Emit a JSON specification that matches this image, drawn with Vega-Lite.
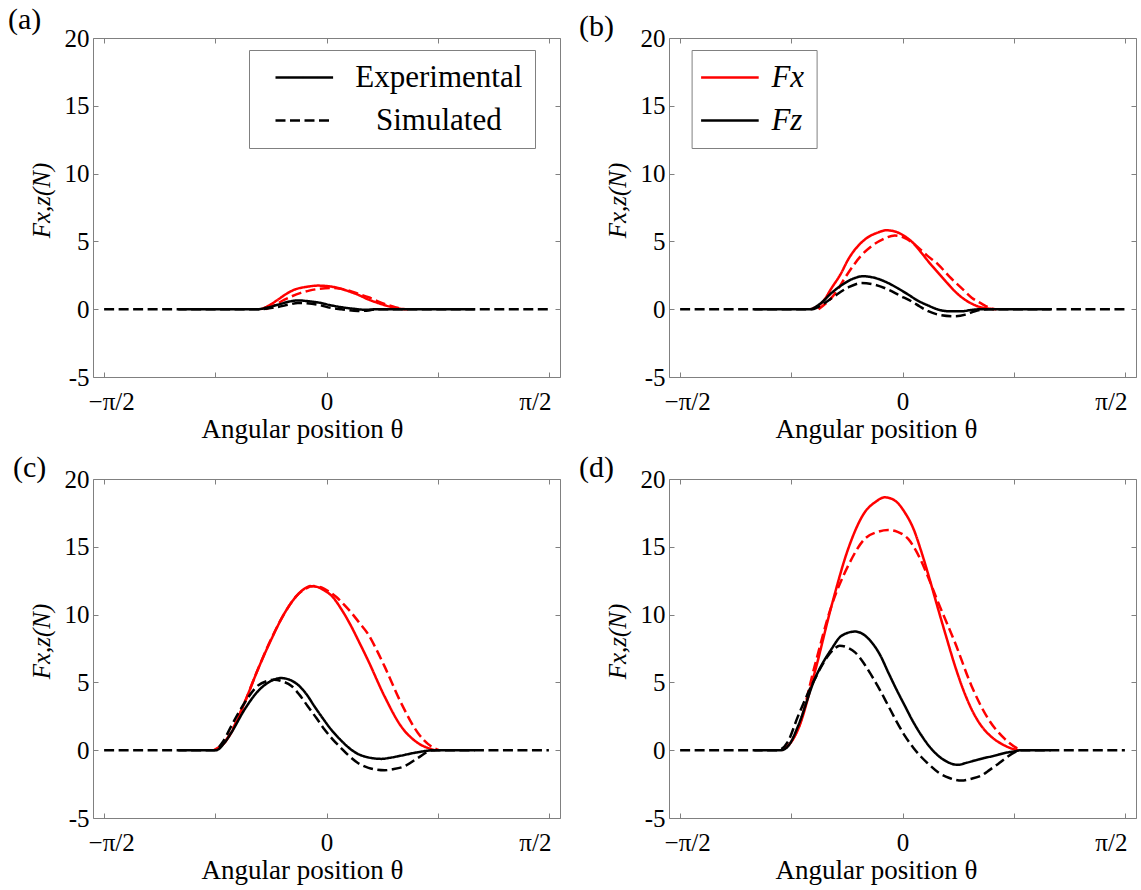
{
  "$schema": "https://vega.github.io/schema/vega-lite/v6.json",
  "background": "white",
  "padding": {"left": 7, "top": 4, "right": 4, "bottom": 4},
  "config": {
    "font": "Liberation Serif",
    "view": {"stroke": "#808080", "strokeWidth": 1},
    "axis": {"grid": false, "domain": false, "tickColor": "#808080", "tickWidth": 1, "tickSize": -5, "labelFont": "Liberation Serif", "labelColor": "black", "labelFontSize": 25, "titleFont": "Liberation Serif", "titleFontWeight": "normal", "titleColor": "black"},
    "title": {"font": "Liberation Serif", "fontSize": 30, "fontWeight": "normal", "anchor": "start", "frame": "group", "color": "black", "offset": -9},
    "legend": {"labelFont": "Liberation Serif", "labelColor": "black"}
  },
  "data": {"values": [
    {"panel":"a","comp":"Fx","kind":"Experimental","theta":-26.5,"F":0},
    {"panel":"a","comp":"Fx","kind":"Experimental","theta":-23,"F":0.3},
    {"panel":"a","comp":"Fx","kind":"Experimental","theta":-19.7,"F":0.7},
    {"panel":"a","comp":"Fx","kind":"Experimental","theta":-16.5,"F":1.1},
    {"panel":"a","comp":"Fx","kind":"Experimental","theta":-13,"F":1.44},
    {"panel":"a","comp":"Fx","kind":"Experimental","theta":-8,"F":1.65},
    {"panel":"a","comp":"Fx","kind":"Experimental","theta":-3.5,"F":1.74},
    {"panel":"a","comp":"Fx","kind":"Experimental","theta":0.5,"F":1.7},
    {"panel":"a","comp":"Fx","kind":"Experimental","theta":4.6,"F":1.57},
    {"panel":"a","comp":"Fx","kind":"Experimental","theta":8.5,"F":1.35},
    {"panel":"a","comp":"Fx","kind":"Experimental","theta":12.7,"F":1.07},
    {"panel":"a","comp":"Fx","kind":"Experimental","theta":16.5,"F":0.75},
    {"panel":"a","comp":"Fx","kind":"Experimental","theta":20.8,"F":0.46},
    {"panel":"a","comp":"Fx","kind":"Experimental","theta":26.2,"F":0.16},
    {"panel":"a","comp":"Fx","kind":"Experimental","theta":29,"F":0.05},
    {"panel":"a","comp":"Fx","kind":"Experimental","theta":31.6,"F":0},
    {"panel":"a","comp":"Fx","kind":"Simulated","theta":-24.5,"F":0},
    {"panel":"a","comp":"Fx","kind":"Simulated","theta":-21,"F":0.3},
    {"panel":"a","comp":"Fx","kind":"Simulated","theta":-17,"F":0.7},
    {"panel":"a","comp":"Fx","kind":"Simulated","theta":-10.4,"F":1.2},
    {"panel":"a","comp":"Fx","kind":"Simulated","theta":-7,"F":1.37},
    {"panel":"a","comp":"Fx","kind":"Simulated","theta":-3.5,"F":1.49},
    {"panel":"a","comp":"Fx","kind":"Simulated","theta":1.9,"F":1.57},
    {"panel":"a","comp":"Fx","kind":"Simulated","theta":6,"F":1.5},
    {"panel":"a","comp":"Fx","kind":"Simulated","theta":9.5,"F":1.35},
    {"panel":"a","comp":"Fx","kind":"Simulated","theta":12.7,"F":1.15},
    {"panel":"a","comp":"Fx","kind":"Simulated","theta":17,"F":0.88},
    {"panel":"a","comp":"Fx","kind":"Simulated","theta":20.8,"F":0.58},
    {"panel":"a","comp":"Fx","kind":"Simulated","theta":27.5,"F":0.16},
    {"panel":"a","comp":"Fx","kind":"Simulated","theta":30,"F":0.05},
    {"panel":"a","comp":"Fx","kind":"Simulated","theta":33,"F":0},
    {"panel":"a","comp":"Fz","kind":"Experimental","theta":-60,"F":0},
    {"panel":"a","comp":"Fz","kind":"Experimental","theta":-27.8,"F":0},
    {"panel":"a","comp":"Fz","kind":"Experimental","theta":-24,"F":0.12},
    {"panel":"a","comp":"Fz","kind":"Experimental","theta":-19.7,"F":0.33},
    {"panel":"a","comp":"Fz","kind":"Experimental","theta":-14,"F":0.6},
    {"panel":"a","comp":"Fz","kind":"Experimental","theta":-11.6,"F":0.65},
    {"panel":"a","comp":"Fz","kind":"Experimental","theta":-8,"F":0.6},
    {"panel":"a","comp":"Fz","kind":"Experimental","theta":-3.5,"F":0.5},
    {"panel":"a","comp":"Fz","kind":"Experimental","theta":2,"F":0.28},
    {"panel":"a","comp":"Fz","kind":"Experimental","theta":6,"F":0.15},
    {"panel":"a","comp":"Fz","kind":"Experimental","theta":10.2,"F":0.05},
    {"panel":"a","comp":"Fz","kind":"Experimental","theta":15.6,"F":-0.04},
    {"panel":"a","comp":"Fz","kind":"Experimental","theta":21,"F":0},
    {"panel":"a","comp":"Fz","kind":"Experimental","theta":60,"F":0},
    {"panel":"a","comp":"Fz","kind":"Simulated","theta":-90,"F":0},
    {"panel":"a","comp":"Fz","kind":"Simulated","theta":-26.5,"F":0},
    {"panel":"a","comp":"Fz","kind":"Simulated","theta":-22,"F":0.1},
    {"panel":"a","comp":"Fz","kind":"Simulated","theta":-19.7,"F":0.16},
    {"panel":"a","comp":"Fz","kind":"Simulated","theta":-15,"F":0.35},
    {"panel":"a","comp":"Fz","kind":"Simulated","theta":-11.6,"F":0.46},
    {"panel":"a","comp":"Fz","kind":"Simulated","theta":-8,"F":0.43},
    {"panel":"a","comp":"Fz","kind":"Simulated","theta":-3.5,"F":0.33},
    {"panel":"a","comp":"Fz","kind":"Simulated","theta":2,"F":0.09},
    {"panel":"a","comp":"Fz","kind":"Simulated","theta":6,"F":0},
    {"panel":"a","comp":"Fz","kind":"Simulated","theta":12.7,"F":-0.13},
    {"panel":"a","comp":"Fz","kind":"Simulated","theta":17,"F":-0.1},
    {"panel":"a","comp":"Fz","kind":"Simulated","theta":20,"F":0},
    {"panel":"a","comp":"Fz","kind":"Simulated","theta":90,"F":0},

    {"panel":"b","comp":"Fx","kind":"Experimental","theta":-37,"F":0},
    {"panel":"b","comp":"Fx","kind":"Experimental","theta":-32,"F":0.6},
    {"panel":"b","comp":"Fx","kind":"Experimental","theta":-28.7,"F":1.56},
    {"panel":"b","comp":"Fx","kind":"Experimental","theta":-25,"F":2.6},
    {"panel":"b","comp":"Fx","kind":"Experimental","theta":-22,"F":3.66},
    {"panel":"b","comp":"Fx","kind":"Experimental","theta":-15.3,"F":5.13},
    {"panel":"b","comp":"Fx","kind":"Experimental","theta":-10,"F":5.65},
    {"panel":"b","comp":"Fx","kind":"Experimental","theta":-6.5,"F":5.82},
    {"panel":"b","comp":"Fx","kind":"Experimental","theta":-2.5,"F":5.7},
    {"panel":"b","comp":"Fx","kind":"Experimental","theta":0.9,"F":5.38},
    {"panel":"b","comp":"Fx","kind":"Experimental","theta":4.5,"F":4.85},
    {"panel":"b","comp":"Fx","kind":"Experimental","theta":7.7,"F":4.15},
    {"panel":"b","comp":"Fx","kind":"Experimental","theta":11,"F":3.4},
    {"panel":"b","comp":"Fx","kind":"Experimental","theta":14.5,"F":2.67},
    {"panel":"b","comp":"Fx","kind":"Experimental","theta":18,"F":1.95},
    {"panel":"b","comp":"Fx","kind":"Experimental","theta":21.2,"F":1.32},
    {"panel":"b","comp":"Fx","kind":"Experimental","theta":24.5,"F":0.8},
    {"panel":"b","comp":"Fx","kind":"Experimental","theta":28,"F":0.41},
    {"panel":"b","comp":"Fx","kind":"Experimental","theta":31.5,"F":0.15},
    {"panel":"b","comp":"Fx","kind":"Experimental","theta":34.7,"F":0.05},
    {"panel":"b","comp":"Fx","kind":"Experimental","theta":38,"F":0},
    {"panel":"b","comp":"Fx","kind":"Simulated","theta":-34,"F":0},
    {"panel":"b","comp":"Fx","kind":"Simulated","theta":-28,"F":1.0},
    {"panel":"b","comp":"Fx","kind":"Simulated","theta":-22,"F":2.67},
    {"panel":"b","comp":"Fx","kind":"Simulated","theta":-17,"F":3.9},
    {"panel":"b","comp":"Fx","kind":"Simulated","theta":-12.6,"F":4.64},
    {"panel":"b","comp":"Fx","kind":"Simulated","theta":-8,"F":5.15},
    {"panel":"b","comp":"Fx","kind":"Simulated","theta":-3.1,"F":5.43},
    {"panel":"b","comp":"Fx","kind":"Simulated","theta":1,"F":5.25},
    {"panel":"b","comp":"Fx","kind":"Simulated","theta":5,"F":4.76},
    {"panel":"b","comp":"Fx","kind":"Simulated","theta":10,"F":3.95},
    {"panel":"b","comp":"Fx","kind":"Simulated","theta":14.5,"F":3.29},
    {"panel":"b","comp":"Fx","kind":"Simulated","theta":19,"F":2.4},
    {"panel":"b","comp":"Fx","kind":"Simulated","theta":23.9,"F":1.56},
    {"panel":"b","comp":"Fx","kind":"Simulated","theta":28,"F":0.85},
    {"panel":"b","comp":"Fx","kind":"Simulated","theta":32,"F":0.41},
    {"panel":"b","comp":"Fx","kind":"Simulated","theta":35,"F":0.12},
    {"panel":"b","comp":"Fx","kind":"Simulated","theta":37,"F":0},
    {"panel":"b","comp":"Fz","kind":"Experimental","theta":-60,"F":0},
    {"panel":"b","comp":"Fz","kind":"Experimental","theta":-37.6,"F":0},
    {"panel":"b","comp":"Fz","kind":"Experimental","theta":-33,"F":0.45},
    {"panel":"b","comp":"Fz","kind":"Experimental","theta":-28.7,"F":1.2},
    {"panel":"b","comp":"Fz","kind":"Experimental","theta":-24,"F":1.85},
    {"panel":"b","comp":"Fz","kind":"Experimental","theta":-20,"F":2.25},
    {"panel":"b","comp":"Fz","kind":"Experimental","theta":-15.9,"F":2.43},
    {"panel":"b","comp":"Fz","kind":"Experimental","theta":-11,"F":2.3},
    {"panel":"b","comp":"Fz","kind":"Experimental","theta":-5.8,"F":1.93},
    {"panel":"b","comp":"Fz","kind":"Experimental","theta":-1.5,"F":1.5},
    {"panel":"b","comp":"Fz","kind":"Experimental","theta":2.3,"F":1.08},
    {"panel":"b","comp":"Fz","kind":"Experimental","theta":6,"F":0.65},
    {"panel":"b","comp":"Fz","kind":"Experimental","theta":10.4,"F":0.27},
    {"panel":"b","comp":"Fz","kind":"Experimental","theta":14,"F":0},
    {"panel":"b","comp":"Fz","kind":"Experimental","theta":18.5,"F":-0.15},
    {"panel":"b","comp":"Fz","kind":"Experimental","theta":24,"F":-0.15},
    {"panel":"b","comp":"Fz","kind":"Experimental","theta":28,"F":-0.05},
    {"panel":"b","comp":"Fz","kind":"Experimental","theta":32,"F":0},
    {"panel":"b","comp":"Fz","kind":"Experimental","theta":60,"F":0},
    {"panel":"b","comp":"Fz","kind":"Simulated","theta":-90,"F":0},
    {"panel":"b","comp":"Fz","kind":"Simulated","theta":-36.5,"F":0},
    {"panel":"b","comp":"Fz","kind":"Simulated","theta":-32,"F":0.4},
    {"panel":"b","comp":"Fz","kind":"Simulated","theta":-28,"F":0.9},
    {"panel":"b","comp":"Fz","kind":"Simulated","theta":-22,"F":1.6},
    {"panel":"b","comp":"Fz","kind":"Simulated","theta":-16.6,"F":1.93},
    {"panel":"b","comp":"Fz","kind":"Simulated","theta":-11,"F":1.8},
    {"panel":"b","comp":"Fz","kind":"Simulated","theta":-5.8,"F":1.45},
    {"panel":"b","comp":"Fz","kind":"Simulated","theta":-1,"F":1.0},
    {"panel":"b","comp":"Fz","kind":"Simulated","theta":3.6,"F":0.58},
    {"panel":"b","comp":"Fz","kind":"Simulated","theta":7,"F":0.2},
    {"panel":"b","comp":"Fz","kind":"Simulated","theta":10.4,"F":-0.15},
    {"panel":"b","comp":"Fz","kind":"Simulated","theta":15,"F":-0.42},
    {"panel":"b","comp":"Fz","kind":"Simulated","theta":21.2,"F":-0.52},
    {"panel":"b","comp":"Fz","kind":"Simulated","theta":25.5,"F":-0.4},
    {"panel":"b","comp":"Fz","kind":"Simulated","theta":29.3,"F":-0.15},
    {"panel":"b","comp":"Fz","kind":"Simulated","theta":33,"F":-0.02},
    {"panel":"b","comp":"Fz","kind":"Simulated","theta":35,"F":0},
    {"panel":"b","comp":"Fz","kind":"Simulated","theta":90,"F":0},

    {"panel":"c","comp":"Fx","kind":"Experimental","theta":-45,"F":0},
    {"panel":"c","comp":"Fx","kind":"Experimental","theta":-41.5,"F":0.5},
    {"panel":"c","comp":"Fx","kind":"Experimental","theta":-38.6,"F":1.27},
    {"panel":"c","comp":"Fx","kind":"Experimental","theta":-33.2,"F":3.48},
    {"panel":"c","comp":"Fx","kind":"Experimental","theta":-27.8,"F":5.94},
    {"panel":"c","comp":"Fx","kind":"Experimental","theta":-22.4,"F":8.15},
    {"panel":"c","comp":"Fx","kind":"Experimental","theta":-17,"F":10.1},
    {"panel":"c","comp":"Fx","kind":"Experimental","theta":-12,"F":11.4},
    {"panel":"c","comp":"Fx","kind":"Experimental","theta":-9,"F":11.9},
    {"panel":"c","comp":"Fx","kind":"Experimental","theta":-6.6,"F":12.1},
    {"panel":"c","comp":"Fx","kind":"Experimental","theta":-4,"F":12.05},
    {"panel":"c","comp":"Fx","kind":"Experimental","theta":-1,"F":11.8},
    {"panel":"c","comp":"Fx","kind":"Experimental","theta":2.5,"F":11.3},
    {"panel":"c","comp":"Fx","kind":"Experimental","theta":6,"F":10.4},
    {"panel":"c","comp":"Fx","kind":"Experimental","theta":10,"F":9.14},
    {"panel":"c","comp":"Fx","kind":"Experimental","theta":13,"F":8.05},
    {"panel":"c","comp":"Fx","kind":"Experimental","theta":16.7,"F":6.67},
    {"panel":"c","comp":"Fx","kind":"Experimental","theta":23.5,"F":3.97},
    {"panel":"c","comp":"Fx","kind":"Experimental","theta":30.2,"F":1.76},
    {"panel":"c","comp":"Fx","kind":"Experimental","theta":37,"F":0.53},
    {"panel":"c","comp":"Fx","kind":"Experimental","theta":42.3,"F":0.09},
    {"panel":"c","comp":"Fx","kind":"Experimental","theta":44,"F":0},
    {"panel":"c","comp":"Fx","kind":"Simulated","theta":-45.5,"F":0},
    {"panel":"c","comp":"Fx","kind":"Simulated","theta":-41.5,"F":0.55},
    {"panel":"c","comp":"Fx","kind":"Simulated","theta":-38.6,"F":1.35},
    {"panel":"c","comp":"Fx","kind":"Simulated","theta":-33.2,"F":3.5},
    {"panel":"c","comp":"Fx","kind":"Simulated","theta":-27.8,"F":5.95},
    {"panel":"c","comp":"Fx","kind":"Simulated","theta":-22.4,"F":8.2},
    {"panel":"c","comp":"Fx","kind":"Simulated","theta":-17,"F":10.1},
    {"panel":"c","comp":"Fx","kind":"Simulated","theta":-12,"F":11.4},
    {"panel":"c","comp":"Fx","kind":"Simulated","theta":-8.5,"F":11.9},
    {"panel":"c","comp":"Fx","kind":"Simulated","theta":-5.2,"F":12.1},
    {"panel":"c","comp":"Fx","kind":"Simulated","theta":-2,"F":12.0},
    {"panel":"c","comp":"Fx","kind":"Simulated","theta":1,"F":11.7},
    {"panel":"c","comp":"Fx","kind":"Simulated","theta":4,"F":11.3},
    {"panel":"c","comp":"Fx","kind":"Simulated","theta":7,"F":10.75},
    {"panel":"c","comp":"Fx","kind":"Simulated","theta":10,"F":10.15},
    {"panel":"c","comp":"Fx","kind":"Simulated","theta":13.5,"F":9.35},
    {"panel":"c","comp":"Fx","kind":"Simulated","theta":16.7,"F":8.6},
    {"panel":"c","comp":"Fx","kind":"Simulated","theta":20,"F":7.5},
    {"panel":"c","comp":"Fx","kind":"Simulated","theta":23.5,"F":6.18},
    {"panel":"c","comp":"Fx","kind":"Simulated","theta":30.2,"F":3.48},
    {"panel":"c","comp":"Fx","kind":"Simulated","theta":37,"F":1.27},
    {"panel":"c","comp":"Fx","kind":"Simulated","theta":42.3,"F":0.29},
    {"panel":"c","comp":"Fx","kind":"Simulated","theta":45.5,"F":0},
    {"panel":"c","comp":"Fz","kind":"Experimental","theta":-60,"F":0},
    {"panel":"c","comp":"Fz","kind":"Experimental","theta":-44.7,"F":0},
    {"panel":"c","comp":"Fz","kind":"Experimental","theta":-41.5,"F":0.5},
    {"panel":"c","comp":"Fz","kind":"Experimental","theta":-38.6,"F":1.27},
    {"panel":"c","comp":"Fz","kind":"Experimental","theta":-33.2,"F":2.99},
    {"panel":"c","comp":"Fz","kind":"Experimental","theta":-27.8,"F":4.34},
    {"panel":"c","comp":"Fz","kind":"Experimental","theta":-23,"F":5.05},
    {"panel":"c","comp":"Fz","kind":"Experimental","theta":-18.4,"F":5.32},
    {"panel":"c","comp":"Fz","kind":"Experimental","theta":-15,"F":5.2},
    {"panel":"c","comp":"Fz","kind":"Experimental","theta":-11.6,"F":4.83},
    {"panel":"c","comp":"Fz","kind":"Experimental","theta":-8,"F":4.1},
    {"panel":"c","comp":"Fz","kind":"Experimental","theta":-4.9,"F":3.24},
    {"panel":"c","comp":"Fz","kind":"Experimental","theta":-1.5,"F":2.35},
    {"panel":"c","comp":"Fz","kind":"Experimental","theta":1.9,"F":1.52},
    {"panel":"c","comp":"Fz","kind":"Experimental","theta":6,"F":0.7},
    {"panel":"c","comp":"Fz","kind":"Experimental","theta":10,"F":0.04},
    {"panel":"c","comp":"Fz","kind":"Experimental","theta":13,"F":-0.3},
    {"panel":"c","comp":"Fz","kind":"Experimental","theta":16.7,"F":-0.52},
    {"panel":"c","comp":"Fz","kind":"Experimental","theta":22.1,"F":-0.64},
    {"panel":"c","comp":"Fz","kind":"Experimental","theta":26,"F":-0.55},
    {"panel":"c","comp":"Fz","kind":"Experimental","theta":30.2,"F":-0.4},
    {"panel":"c","comp":"Fz","kind":"Experimental","theta":37,"F":-0.15},
    {"panel":"c","comp":"Fz","kind":"Experimental","theta":43.7,"F":0},
    {"panel":"c","comp":"Fz","kind":"Experimental","theta":60,"F":0},
    {"panel":"c","comp":"Fz","kind":"Simulated","theta":-90,"F":0},
    {"panel":"c","comp":"Fz","kind":"Simulated","theta":-45.4,"F":0},
    {"panel":"c","comp":"Fz","kind":"Simulated","theta":-42,"F":0.6},
    {"panel":"c","comp":"Fz","kind":"Simulated","theta":-38.6,"F":1.76},
    {"panel":"c","comp":"Fz","kind":"Simulated","theta":-33.2,"F":3.48},
    {"panel":"c","comp":"Fz","kind":"Simulated","theta":-27.8,"F":4.76},
    {"panel":"c","comp":"Fz","kind":"Simulated","theta":-24,"F":5.1},
    {"panel":"c","comp":"Fz","kind":"Simulated","theta":-21.1,"F":5.2},
    {"panel":"c","comp":"Fz","kind":"Simulated","theta":-17.5,"F":5.05},
    {"panel":"c","comp":"Fz","kind":"Simulated","theta":-14.3,"F":4.76},
    {"panel":"c","comp":"Fz","kind":"Simulated","theta":-11,"F":4.1},
    {"panel":"c","comp":"Fz","kind":"Simulated","theta":-7.6,"F":3.24},
    {"panel":"c","comp":"Fz","kind":"Simulated","theta":-4,"F":2.35},
    {"panel":"c","comp":"Fz","kind":"Simulated","theta":-0.8,"F":1.52},
    {"panel":"c","comp":"Fz","kind":"Simulated","theta":2.5,"F":0.8},
    {"panel":"c","comp":"Fz","kind":"Simulated","theta":5.9,"F":0.16},
    {"panel":"c","comp":"Fz","kind":"Simulated","theta":9,"F":-0.4},
    {"panel":"c","comp":"Fz","kind":"Simulated","theta":12.7,"F":-0.94},
    {"panel":"c","comp":"Fz","kind":"Simulated","theta":17,"F":-1.3},
    {"panel":"c","comp":"Fz","kind":"Simulated","theta":23.5,"F":-1.48},
    {"panel":"c","comp":"Fz","kind":"Simulated","theta":27,"F":-1.4},
    {"panel":"c","comp":"Fz","kind":"Simulated","theta":31.5,"F":-1.19},
    {"panel":"c","comp":"Fz","kind":"Simulated","theta":37,"F":-0.57},
    {"panel":"c","comp":"Fz","kind":"Simulated","theta":42.3,"F":-0.03},
    {"panel":"c","comp":"Fz","kind":"Simulated","theta":45,"F":0},
    {"panel":"c","comp":"Fz","kind":"Simulated","theta":90,"F":0},

    {"panel":"d","comp":"Fx","kind":"Experimental","theta":-49,"F":0},
    {"panel":"d","comp":"Fx","kind":"Experimental","theta":-45.5,"F":0.5},
    {"panel":"d","comp":"Fx","kind":"Experimental","theta":-42.2,"F":1.57},
    {"panel":"d","comp":"Fx","kind":"Experimental","theta":-35.5,"F":5.75},
    {"panel":"d","comp":"Fx","kind":"Experimental","theta":-28.7,"F":10.66},
    {"panel":"d","comp":"Fx","kind":"Experimental","theta":-22,"F":14.84},
    {"panel":"d","comp":"Fx","kind":"Experimental","theta":-15.3,"F":17.54},
    {"panel":"d","comp":"Fx","kind":"Experimental","theta":-11,"F":18.3},
    {"panel":"d","comp":"Fx","kind":"Experimental","theta":-7.2,"F":18.65},
    {"panel":"d","comp":"Fx","kind":"Experimental","theta":-3,"F":18.4},
    {"panel":"d","comp":"Fx","kind":"Experimental","theta":0.9,"F":17.54},
    {"panel":"d","comp":"Fx","kind":"Experimental","theta":4.5,"F":16.3},
    {"panel":"d","comp":"Fx","kind":"Experimental","theta":7.7,"F":14.6},
    {"panel":"d","comp":"Fx","kind":"Experimental","theta":11,"F":12.6},
    {"panel":"d","comp":"Fx","kind":"Experimental","theta":14.4,"F":10.42},
    {"panel":"d","comp":"Fx","kind":"Experimental","theta":17.8,"F":8.3},
    {"panel":"d","comp":"Fx","kind":"Experimental","theta":21.2,"F":6.24},
    {"panel":"d","comp":"Fx","kind":"Experimental","theta":24.5,"F":4.5},
    {"panel":"d","comp":"Fx","kind":"Experimental","theta":27.9,"F":3.04},
    {"panel":"d","comp":"Fx","kind":"Experimental","theta":31.3,"F":1.95},
    {"panel":"d","comp":"Fx","kind":"Experimental","theta":34.7,"F":1.2},
    {"panel":"d","comp":"Fx","kind":"Experimental","theta":38,"F":0.7},
    {"panel":"d","comp":"Fx","kind":"Experimental","theta":41.4,"F":0.34},
    {"panel":"d","comp":"Fx","kind":"Experimental","theta":45.5,"F":0.05},
    {"panel":"d","comp":"Fx","kind":"Experimental","theta":47,"F":0},
    {"panel":"d","comp":"Fx","kind":"Simulated","theta":-49,"F":0},
    {"panel":"d","comp":"Fx","kind":"Simulated","theta":-45.5,"F":0.5},
    {"panel":"d","comp":"Fx","kind":"Simulated","theta":-42.2,"F":1.6},
    {"panel":"d","comp":"Fx","kind":"Simulated","theta":-35.5,"F":6.24},
    {"panel":"d","comp":"Fx","kind":"Simulated","theta":-28.7,"F":10.66},
    {"panel":"d","comp":"Fx","kind":"Simulated","theta":-22,"F":13.6},
    {"panel":"d","comp":"Fx","kind":"Simulated","theta":-15.3,"F":15.58},
    {"panel":"d","comp":"Fx","kind":"Simulated","theta":-10,"F":16.1},
    {"panel":"d","comp":"Fx","kind":"Simulated","theta":-5.8,"F":16.24},
    {"panel":"d","comp":"Fx","kind":"Simulated","theta":-2,"F":16.1},
    {"panel":"d","comp":"Fx","kind":"Simulated","theta":2.3,"F":15.58},
    {"panel":"d","comp":"Fx","kind":"Simulated","theta":5.5,"F":14.7},
    {"panel":"d","comp":"Fx","kind":"Simulated","theta":9,"F":13.37},
    {"panel":"d","comp":"Fx","kind":"Simulated","theta":14.4,"F":10.91},
    {"panel":"d","comp":"Fx","kind":"Simulated","theta":21.2,"F":7.96},
    {"panel":"d","comp":"Fx","kind":"Simulated","theta":27.9,"F":4.76},
    {"panel":"d","comp":"Fx","kind":"Simulated","theta":34.7,"F":2.31},
    {"panel":"d","comp":"Fx","kind":"Simulated","theta":41.4,"F":0.83},
    {"panel":"d","comp":"Fx","kind":"Simulated","theta":46.8,"F":0.1},
    {"panel":"d","comp":"Fx","kind":"Simulated","theta":48,"F":0},
    {"panel":"d","comp":"Fz","kind":"Experimental","theta":-60,"F":0},
    {"panel":"d","comp":"Fz","kind":"Experimental","theta":-49,"F":0},
    {"panel":"d","comp":"Fz","kind":"Experimental","theta":-45.5,"F":0.5},
    {"panel":"d","comp":"Fz","kind":"Experimental","theta":-42.2,"F":1.81},
    {"panel":"d","comp":"Fz","kind":"Experimental","theta":-35.5,"F":5.25},
    {"panel":"d","comp":"Fz","kind":"Experimental","theta":-28.7,"F":7.47},
    {"panel":"d","comp":"Fz","kind":"Experimental","theta":-24.6,"F":8.45},
    {"panel":"d","comp":"Fz","kind":"Experimental","theta":-19.2,"F":8.75},
    {"panel":"d","comp":"Fz","kind":"Experimental","theta":-15.5,"F":8.5},
    {"panel":"d","comp":"Fz","kind":"Experimental","theta":-12.5,"F":7.96},
    {"panel":"d","comp":"Fz","kind":"Experimental","theta":-9,"F":7.0},
    {"panel":"d","comp":"Fz","kind":"Experimental","theta":-5.8,"F":5.75},
    {"panel":"d","comp":"Fz","kind":"Experimental","theta":-2.5,"F":4.5},
    {"panel":"d","comp":"Fz","kind":"Experimental","theta":0.9,"F":3.29},
    {"panel":"d","comp":"Fz","kind":"Experimental","theta":4.3,"F":2.1},
    {"panel":"d","comp":"Fz","kind":"Experimental","theta":7.7,"F":1.08},
    {"panel":"d","comp":"Fz","kind":"Experimental","theta":11,"F":0.25},
    {"panel":"d","comp":"Fz","kind":"Experimental","theta":14.4,"F":-0.4},
    {"panel":"d","comp":"Fz","kind":"Experimental","theta":18,"F":-0.85},
    {"panel":"d","comp":"Fz","kind":"Experimental","theta":22.5,"F":-1.08},
    {"panel":"d","comp":"Fz","kind":"Experimental","theta":26,"F":-0.92},
    {"panel":"d","comp":"Fz","kind":"Experimental","theta":29.3,"F":-0.76},
    {"panel":"d","comp":"Fz","kind":"Experimental","theta":33,"F":-0.58},
    {"panel":"d","comp":"Fz","kind":"Experimental","theta":37.4,"F":-0.4},
    {"panel":"d","comp":"Fz","kind":"Experimental","theta":41,"F":-0.22},
    {"panel":"d","comp":"Fz","kind":"Experimental","theta":45.5,"F":-0.08},
    {"panel":"d","comp":"Fz","kind":"Experimental","theta":48,"F":0},
    {"panel":"d","comp":"Fz","kind":"Experimental","theta":60,"F":0},
    {"panel":"d","comp":"Fz","kind":"Simulated","theta":-90,"F":0},
    {"panel":"d","comp":"Fz","kind":"Simulated","theta":-50.4,"F":0},
    {"panel":"d","comp":"Fz","kind":"Simulated","theta":-46.5,"F":0.6},
    {"panel":"d","comp":"Fz","kind":"Simulated","theta":-42.2,"F":2.55},
    {"panel":"d","comp":"Fz","kind":"Simulated","theta":-35.5,"F":5.25},
    {"panel":"d","comp":"Fz","kind":"Simulated","theta":-30.1,"F":6.97},
    {"panel":"d","comp":"Fz","kind":"Simulated","theta":-27.5,"F":7.5},
    {"panel":"d","comp":"Fz","kind":"Simulated","theta":-25.4,"F":7.71},
    {"panel":"d","comp":"Fz","kind":"Simulated","theta":-22,"F":7.55},
    {"panel":"d","comp":"Fz","kind":"Simulated","theta":-19.2,"F":7.22},
    {"panel":"d","comp":"Fz","kind":"Simulated","theta":-15.8,"F":6.45},
    {"panel":"d","comp":"Fz","kind":"Simulated","theta":-12.5,"F":5.5},
    {"panel":"d","comp":"Fz","kind":"Simulated","theta":-9,"F":4.4},
    {"panel":"d","comp":"Fz","kind":"Simulated","theta":-5.8,"F":3.29},
    {"panel":"d","comp":"Fz","kind":"Simulated","theta":-2.5,"F":2.15},
    {"panel":"d","comp":"Fz","kind":"Simulated","theta":0.9,"F":1.08},
    {"panel":"d","comp":"Fz","kind":"Simulated","theta":4.3,"F":0.2},
    {"panel":"d","comp":"Fz","kind":"Simulated","theta":7.7,"F":-0.52},
    {"panel":"d","comp":"Fz","kind":"Simulated","theta":11,"F":-1.1},
    {"panel":"d","comp":"Fz","kind":"Simulated","theta":14.4,"F":-1.63},
    {"panel":"d","comp":"Fz","kind":"Simulated","theta":19,"F":-2.05},
    {"panel":"d","comp":"Fz","kind":"Simulated","theta":23.9,"F":-2.24},
    {"panel":"d","comp":"Fz","kind":"Simulated","theta":28,"F":-2.1},
    {"panel":"d","comp":"Fz","kind":"Simulated","theta":31.9,"F":-1.87},
    {"panel":"d","comp":"Fz","kind":"Simulated","theta":35.3,"F":-1.45},
    {"panel":"d","comp":"Fz","kind":"Simulated","theta":38.7,"F":-1.01},
    {"panel":"d","comp":"Fz","kind":"Simulated","theta":42,"F":-0.55},
    {"panel":"d","comp":"Fz","kind":"Simulated","theta":45.5,"F":-0.15},
    {"panel":"d","comp":"Fz","kind":"Simulated","theta":48,"F":0},
    {"panel":"d","comp":"Fz","kind":"Simulated","theta":90,"F":0}
  ]},
  "columns": 2,
  "spacing": {"row": 102, "column": 109},
  "bounds": "flush",
  "resolve": {"scale": {"color": "independent", "strokeDash": "independent"}, "legend": {"color": "independent", "strokeDash": "independent"}},
  "concat": [
    {
      "width": 467, "height": 339,
      "title": {"text": "(a)", "dx": -85},
      "transform": [{"filter": "datum.panel === 'a'"}],
      "layer": [
        {
          "mark": {"type": "line", "interpolate": "monotone", "strokeWidth": 2.5},
          "encoding": {
            "x": {"field": "theta", "type": "quantitative", "scale": {"domain": [-94.5, 94.5], "nice": false, "zero": false},
                  "axis": {"values": [-90, -45, 0, 45, 90], "labelExpr": "datum.value === -90 ? '−π/2' : datum.value === 0 ? '0' : datum.value === 90 ? 'π/2' : ''", "labelPadding": 17.5, "labelOffset": {"condition": [{"test": "datum.value < 0", "value": 7}, {"test": "datum.value > 0", "value": -14}], "value": 0}, "title": "Angular position θ", "titleFontSize": 27, "titlePadding": 2, "titleX": 209}},
            "y": {"field": "F", "type": "quantitative", "scale": {"domain": [-5, 20], "nice": false, "zero": false},
                  "axis": {"values": [-5, 0, 5, 10, 15, 20], "labelExpr": "datum.value < 0 ? '-' + abs(datum.value) : datum.label", "labelPadding": 9, "title": "Fx,z(N)", "titleFontSize": 25, "titleFontStyle": "italic", "titlePadding": 10, "titleY": 162}},
            "color": {"field": "comp", "type": "nominal", "scale": {"domain": ["Fx", "Fz"], "range": ["#ff0000", "#000000"]}, "legend": null},
            "strokeDash": {"field": "kind", "type": "nominal", "scale": {"domain": ["Experimental", "Simulated"], "range": [[1, 0], [10, 4.5]]},
                  "legend": {"title": null, "orient": "none", "legendX": 156, "legendY": 12, "strokeColor": "#808080", "fillColor": "white", "padding": 12, "rowPadding": 11, "symbolType": "M-5.76,0H5.76", "symbolSize": 100, "symbolOffset": 27.8, "symbolStrokeWidth": 2.5, "symbolStrokeColor": "black", "labelFontSize": 31, "labelAlign": "center", "labelOffset": 119, "labelLimit": 400}}
          }
        },
        {
          "mark": {"type": "point", "opacity": 0},
          "encoding": {
            "x": {"field": "theta", "type": "quantitative", "scale": {"domain": [-94.5, 94.5], "nice": false, "zero": false}, "axis": {"orient": "top", "values": [-90, -45, 0, 45, 90], "labels": false, "title": null}},
            "y": {"field": "F", "type": "quantitative", "scale": {"domain": [-5, 20], "nice": false, "zero": false}, "axis": {"orient": "right", "values": [-5, 0, 5, 10, 15, 20], "labels": false, "title": null}}
          }
        }
      ],
      "resolve": {"axis": {"x": "independent", "y": "independent"}}
    },
    {
      "width": 467, "height": 339,
      "title": {"text": "(b)", "dx": -90, "dy": 7},
      "transform": [{"filter": "datum.panel === 'b'"}],
      "layer": [
        {
          "mark": {"type": "line", "interpolate": "monotone", "strokeWidth": 2.5},
          "encoding": {
            "x": {"field": "theta", "type": "quantitative", "scale": {"domain": [-94.5, 94.5], "nice": false, "zero": false},
                  "axis": {"values": [-90, -45, 0, 45, 90], "labelExpr": "datum.value === -90 ? '−π/2' : datum.value === 0 ? '0' : datum.value === 90 ? 'π/2' : ''", "labelPadding": 17.5, "labelOffset": {"condition": [{"test": "datum.value < 0", "value": 7}, {"test": "datum.value > 0", "value": -14}], "value": 0}, "title": "Angular position θ", "titleFontSize": 27, "titlePadding": 2, "titleX": 207}},
            "y": {"field": "F", "type": "quantitative", "scale": {"domain": [-5, 20], "nice": false, "zero": false},
                  "axis": {"values": [-5, 0, 5, 10, 15, 20], "labelExpr": "datum.value < 0 ? '-' + abs(datum.value) : datum.label", "labelPadding": 9, "title": "Fx,z(N)", "titleFontSize": 25, "titleFontStyle": "italic", "titlePadding": 10, "titleY": 162}},
            "color": {"field": "comp", "type": "nominal", "scale": {"domain": ["Fx", "Fz"], "range": ["#ff0000", "#000000"]},
                  "legend": {"title": null, "orient": "none", "legendX": 22.6, "legendY": 12, "strokeColor": "#808080", "fillColor": "white", "padding": 12, "rowPadding": 11, "symbolType": "M-5.76,0H5.76", "symbolSize": 100, "symbolOffset": 10.8, "symbolStrokeWidth": 2.5, "labelFontSize": 31, "labelFontStyle": "italic", "labelOffset": 26, "labelLimit": 400}},
            "strokeDash": {"field": "kind", "type": "nominal", "scale": {"domain": ["Experimental", "Simulated"], "range": [[1, 0], [10, 4.5]]}, "legend": null}
          }
        },
        {
          "mark": {"type": "point", "opacity": 0},
          "encoding": {
            "x": {"field": "theta", "type": "quantitative", "scale": {"domain": [-94.5, 94.5], "nice": false, "zero": false}, "axis": {"orient": "top", "values": [-90, -45, 0, 45, 90], "labels": false, "title": null}},
            "y": {"field": "F", "type": "quantitative", "scale": {"domain": [-5, 20], "nice": false, "zero": false}, "axis": {"orient": "right", "values": [-5, 0, 5, 10, 15, 20], "labels": false, "title": null}}
          }
        }
      ],
      "resolve": {"axis": {"x": "independent", "y": "independent"}}
    },
    {
      "width": 467, "height": 339,
      "title": {"text": "(c)", "dx": -80, "dy": 7},
      "transform": [{"filter": "datum.panel === 'c'"}],
      "layer": [
        {
          "mark": {"type": "line", "interpolate": "monotone", "strokeWidth": 2.5},
          "encoding": {
            "x": {"field": "theta", "type": "quantitative", "scale": {"domain": [-94.5, 94.5], "nice": false, "zero": false},
                  "axis": {"values": [-90, -45, 0, 45, 90], "labelExpr": "datum.value === -90 ? '−π/2' : datum.value === 0 ? '0' : datum.value === 90 ? 'π/2' : ''", "labelPadding": 17.5, "labelOffset": {"condition": [{"test": "datum.value < 0", "value": 7}, {"test": "datum.value > 0", "value": -14}], "value": 0}, "title": "Angular position θ", "titleFontSize": 27, "titlePadding": 2, "titleX": 209}},
            "y": {"field": "F", "type": "quantitative", "scale": {"domain": [-5, 20], "nice": false, "zero": false},
                  "axis": {"values": [-5, 0, 5, 10, 15, 20], "labelExpr": "datum.value < 0 ? '-' + abs(datum.value) : datum.label", "labelPadding": 9, "title": "Fx,z(N)", "titleFontSize": 25, "titleFontStyle": "italic", "titlePadding": 10, "titleY": 162}},
            "color": {"field": "comp", "type": "nominal", "scale": {"domain": ["Fx", "Fz"], "range": ["#ff0000", "#000000"]}, "legend": null},
            "strokeDash": {"field": "kind", "type": "nominal", "scale": {"domain": ["Experimental", "Simulated"], "range": [[1, 0], [10, 4.5]]}, "legend": null}
          }
        },
        {
          "mark": {"type": "point", "opacity": 0},
          "encoding": {
            "x": {"field": "theta", "type": "quantitative", "scale": {"domain": [-94.5, 94.5], "nice": false, "zero": false}, "axis": {"orient": "top", "values": [-90, -45, 0, 45, 90], "labels": false, "title": null}},
            "y": {"field": "F", "type": "quantitative", "scale": {"domain": [-5, 20], "nice": false, "zero": false}, "axis": {"orient": "right", "values": [-5, 0, 5, 10, 15, 20], "labels": false, "title": null}}
          }
        }
      ],
      "resolve": {"axis": {"x": "independent", "y": "independent"}}
    },
    {
      "width": 467, "height": 339,
      "title": {"text": "(d)", "dx": -90, "dy": 7},
      "transform": [{"filter": "datum.panel === 'd'"}],
      "layer": [
        {
          "mark": {"type": "line", "interpolate": "monotone", "strokeWidth": 2.5},
          "encoding": {
            "x": {"field": "theta", "type": "quantitative", "scale": {"domain": [-94.5, 94.5], "nice": false, "zero": false},
                  "axis": {"values": [-90, -45, 0, 45, 90], "labelExpr": "datum.value === -90 ? '−π/2' : datum.value === 0 ? '0' : datum.value === 90 ? 'π/2' : ''", "labelPadding": 17.5, "labelOffset": {"condition": [{"test": "datum.value < 0", "value": 7}, {"test": "datum.value > 0", "value": -14}], "value": 0}, "title": "Angular position θ", "titleFontSize": 27, "titlePadding": 2, "titleX": 207}},
            "y": {"field": "F", "type": "quantitative", "scale": {"domain": [-5, 20], "nice": false, "zero": false},
                  "axis": {"values": [-5, 0, 5, 10, 15, 20], "labelExpr": "datum.value < 0 ? '-' + abs(datum.value) : datum.label", "labelPadding": 9, "title": "Fx,z(N)", "titleFontSize": 25, "titleFontStyle": "italic", "titlePadding": 10, "titleY": 162}},
            "color": {"field": "comp", "type": "nominal", "scale": {"domain": ["Fx", "Fz"], "range": ["#ff0000", "#000000"]}, "legend": null},
            "strokeDash": {"field": "kind", "type": "nominal", "scale": {"domain": ["Experimental", "Simulated"], "range": [[1, 0], [10, 4.5]]}, "legend": null}
          }
        },
        {
          "mark": {"type": "point", "opacity": 0},
          "encoding": {
            "x": {"field": "theta", "type": "quantitative", "scale": {"domain": [-94.5, 94.5], "nice": false, "zero": false}, "axis": {"orient": "top", "values": [-90, -45, 0, 45, 90], "labels": false, "title": null}},
            "y": {"field": "F", "type": "quantitative", "scale": {"domain": [-5, 20], "nice": false, "zero": false}, "axis": {"orient": "right", "values": [-5, 0, 5, 10, 15, 20], "labels": false, "title": null}}
          }
        }
      ],
      "resolve": {"axis": {"x": "independent", "y": "independent"}}
    }
  ]
}
